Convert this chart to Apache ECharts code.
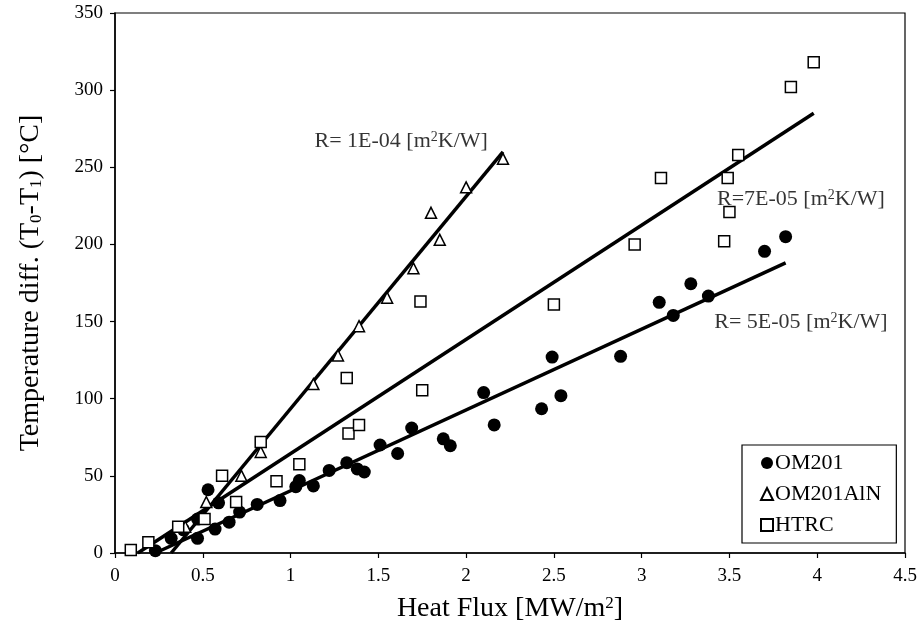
<!DOCTYPE html>
<html><head><meta charset="utf-8">
<script src="https://cdn.jsdelivr.net/npm/echarts@6/dist/echarts.min.js"></script>
<style>html,body{margin:0;padding:0;background:#fff}#c{width:922px;height:635px}</style>
</head><body><div id="c"></div>
<script>
// ---- data ----
const seriesNames = ['OM201', 'OM201AlN', 'HTRC'];
const om201 = [
  [0.23,1.5],[0.32,9.5],[0.39,15],[0.47,9.5],[0.47,22],[0.53,41],[0.57,15.5],[0.59,32.5],
  [0.65,20],[0.71,26.5],[0.81,31.5],[0.94,34],[1.03,43],[1.05,47],[1.13,43.5],[1.22,53.5],
  [1.32,58.5],[1.38,54.5],[1.42,52.5],[1.51,70],[1.61,64.5],[1.69,81],[1.87,74],[1.91,69.5],
  [2.10,104],[2.16,83],[2.43,93.5],[2.49,127],[2.54,102],[2.88,127.5],[3.10,162.5],[3.18,154],
  [3.28,174.5],[3.38,166.5],[3.70,195.5],[3.82,205]
];
const om201AlN = [
  [0.40,17],[0.52,33],[0.72,50],[0.83,65.5],[1.13,109.5],[1.27,128],[1.39,147],[1.55,165.5],
  [1.70,184.5],[1.80,220.5],[1.85,203],[2.00,237],[2.21,255.5]
];
const htrc = [
  [0.09,2],[0.19,7],[0.36,17],[0.51,22],[0.61,50],[0.69,33],[0.83,72],[0.92,46.5],[1.05,57.5],
  [1.32,113.5],[1.33,77.5],[1.39,83],[1.74,163],[1.75,105.5],[2.50,161],[2.96,200],[3.11,243],
  [3.47,202],[3.49,243],[3.50,221],[3.55,258],[3.85,302],[3.98,318]
];
const fitR1 = [[0.32,0],[2.21,260]];
const fitR2 = [[0.13,0],[3.98,285]];
const fitR3 = [[0.23,0],[3.82,188]];
const fitLabels = ['R= 1E-04 [m{sup|2}K/W]', 'R=7E-05 [m{sup|2}K/W]', 'R= 5E-05 [m{sup|2}K/W]'];
const xAxisMin = 0, xAxisMax = 4.5, xAxisStep = 0.5;
const yAxisMin = 0, yAxisMax = 350, yAxisStep = 50;

// ---- chart ----
const FONT = "'Liberation Serif', 'Times New Roman', serif";
const chart = echarts.init(document.getElementById('c'), null, {renderer: 'canvas'});
const supStyle = {fontSize: 14, fontFamily: FONT, color: '#000', verticalAlign: 'top', padding: [0,0,6,0]};
const subStyle = {fontSize: 17, fontFamily: FONT, color: '#000', verticalAlign: 'bottom', padding: [7,0,0,0]};

function lineSeries(data) {
  return {type: 'line', data: data, symbol: 'none', silent: true, z: 2,
    lineStyle: {color: '#000', width: 3.5}, legendHoverLink: false};
}
function labelSeries(pos, text) {
  return {type: 'scatter', data: [pos], symbolSize: 0, silent: true, z: 5,
    label: {show: true, position: 'inside', formatter: text,
      fontSize: 22, fontFamily: FONT, color: '#000', rich: {sup: supStyle}}};
}

chart.setOption({
  animation: false,
  backgroundColor: '#fff',
  textStyle: {fontFamily: FONT, color: '#000'},
  grid: {left: 115, right: 17, top: 13, bottom: 82, show: true, borderColor: '#000', borderWidth: 1.2, backgroundColor: 'transparent'},
  xAxis: {
    type: 'value', min: xAxisMin, max: xAxisMax, interval: xAxisStep,
    axisLine: {show: true, lineStyle: {color: '#000', width: 1.5}},
    axisTick: {show: true, inside: false, length: 5, lineStyle: {color: '#000', width: 1.2}},
    axisLabel: {fontSize: 19, color: '#000', fontFamily: FONT, margin: 14},
    splitLine: {show: false},
    name: 'Heat Flux [MW/m{sup|2}]', nameLocation: 'middle', nameGap: 42,
    nameTextStyle: {fontSize: 28, fontFamily: FONT, color: '#000', rich: {sup: {fontSize: 17, fontFamily: FONT, color: '#000', verticalAlign: 'top', padding: [0,0,9,0]}}}
  },
  yAxis: {
    type: 'value', min: yAxisMin, max: yAxisMax, interval: yAxisStep,
    axisLine: {show: true, lineStyle: {color: '#000', width: 1.5}},
    axisTick: {show: true, inside: false, length: 5, lineStyle: {color: '#000', width: 1.2}},
    axisLabel: {fontSize: 19, color: '#000', fontFamily: FONT, margin: 12},
    splitLine: {show: false},
    name: 'Temperature diff. (T{sub|0}-T{sub|1}) [°C]', nameLocation: 'middle', nameGap: 70,
    nameTextStyle: {fontSize: 28, fontFamily: FONT, color: '#000', rich: {sub: subStyle}}
  },
  legend: {
    orient: 'vertical', left: 742, top: 445,
    data: [{name: seriesNames[0], icon: 'circle'}, {name: seriesNames[1], icon: 'triangle'}, {name: seriesNames[2], icon: 'rect'}],
    itemWidth: 12, itemHeight: 12, itemGap: 9,
    textStyle: {fontSize: 22, fontFamily: FONT, color: '#000', padding: [0,0,0,-3]},
    borderColor: '#000', borderWidth: 1.2, borderRadius: 0, padding: [7, 15, 7, 18],
    backgroundColor: '#fff', selectedMode: false
  },
  series: [
    lineSeries(fitR1), lineSeries(fitR2), lineSeries(fitR3),
    {name: seriesNames[0], type: 'scatter', data: om201, symbol: 'circle', symbolSize: 13, z: 3,
      itemStyle: {color: '#000', borderColor: '#000', borderWidth: 0, opacity: 1}},
    {name: seriesNames[1], type: 'scatter', data: om201AlN, symbol: 'triangle', symbolSize: 11, z: 4,
      itemStyle: {color: '#fff', borderColor: '#000', borderWidth: 1.5, opacity: 1}},
    {name: seriesNames[2], type: 'scatter', data: htrc, symbol: 'rect', symbolSize: 11, z: 4,
      itemStyle: {color: '#fff', borderColor: '#000', borderWidth: 1.5, opacity: 1}},
    labelSeries([1.63, 267], fitLabels[0]),
    labelSeries([3.907, 229.5], fitLabels[1]),
    labelSeries([3.907, 149.7], fitLabels[2])
  ]
});
</script></body></html>
